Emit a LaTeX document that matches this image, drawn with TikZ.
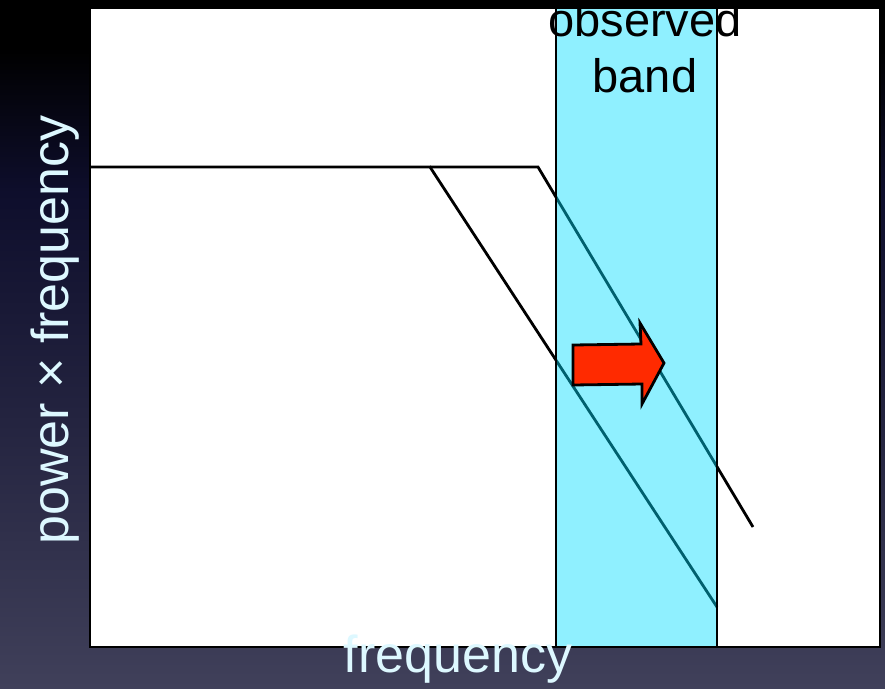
\documentclass[tikz,border=0pt]{standalone}
\usepackage{fontspec}
\setmainfont{Liberation Sans}
\definecolor{bandcol}{HTML}{8FF0FF}
\definecolor{tealline}{HTML}{00606E}
\definecolor{labelcol}{HTML}{DDF8FF}
\definecolor{arrowred}{HTML}{FF2A00}
\definecolor{bgmid}{HTML}{0E0E2C}
\definecolor{bgmidb}{HTML}{23233F}
\definecolor{bgbot}{HTML}{40405A}
\pgfdeclareverticalshading{bgshade}{100bp}{color(0bp)=(bgbot); color(25bp)=(bgbot); color(45bp)=(bgmidb); color(61bp)=(bgmid); color(71.5bp)=(black); color(100bp)=(black)}
\begin{document}
\begin{tikzpicture}[x=1pt,y=-1pt,
  frame/.style={draw=black,line width=2.8pt},
  curve/.style={line width=2.8pt,line join=miter},
  axislabel/.style={text=labelcol,font=\fontsize{52}{60}\selectfont,inner sep=0pt},
  bandlabel/.style={text=black,font=\fontsize{47}{57}\selectfont,inner sep=0pt,anchor=base}]
\useasboundingbox (0,0) rectangle (885,688);
\shade[shading=bgshade] (0,0) rectangle (885,688);
% plot box
\coordinate (boxtl) at (90,8);
\coordinate (boxbr) at (880,647);
\fill[white] (boxtl) rectangle (boxbr);
% curve coordinates
\coordinate (start) at (90,167);
\coordinate (kneeA) at (430,167);
\coordinate (kneeB) at (538,167);
\coordinate (endA) at (717,607);
\coordinate (endB) at (753,527);
\draw[curve] (start) -- (kneeA) -- (endA);
\draw[curve] (kneeA) -- (kneeB) -- (endB);
% band
\coordinate (bandtl) at (556,8);
\coordinate (bandbr) at (717,647);
\fill[bandcol] (bandtl) rectangle (bandbr);
\begin{scope}
  \clip (bandtl) rectangle (bandbr);
  \draw[curve,tealline] (start) -- (kneeA) -- (endA);
  \draw[curve,tealline] (kneeA) -- (kneeB) -- (endB);
\end{scope}
\draw[frame] (bandtl) rectangle (bandbr);
\draw[frame] (boxtl) rectangle (boxbr);
% band label
\node[bandlabel] (obs) at (645,36) {observed};
\node[bandlabel] (band) at (645,92) {band};
% red arrow
\draw[fill=arrowred,line width=2.8pt,line join=miter]
  (573,345) -- (641,344) -- (640,323) -- (664,363) -- (642,404) -- (642,384) -- (573,385) -- cycle;
% axis labels
\node[axislabel,rotate=90,anchor=base] (ylab) at (68,330) {power × frequency};
\node[axislabel,anchor=base] (xlab) at (458,672) {frequency};
\end{tikzpicture}
\end{document}
